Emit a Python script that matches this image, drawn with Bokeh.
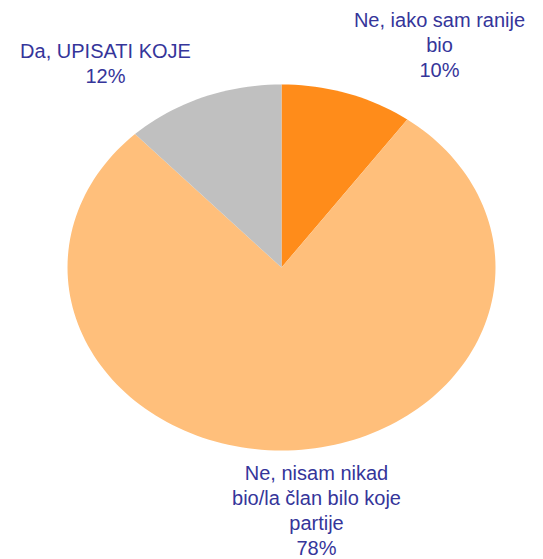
import math
from bokeh.plotting import figure
from bokeh.models import Range1d, ColumnDataSource
from bokeh.core.properties import value
from bokeh.embed import file_html
from bokeh.resources import INLINE

# --- data ---
categories = ["Ne, iako sam ranije\nbio",
              "Ne, nisam nikad\nbio/la član bilo koje\npartije",
              "Da, UPISATI KOJE"]
shares = [10, 78, 12]
colors = ["#FF8C1A", "#FFBF7B", "#C0C0C0"]

# --- layout (picture pixel coordinates) ---
W, H = 543, 559
CX, CY, RX, RY = 281, 267, 214, 183
label_anchor = [(439, 19), (316, 472), (105, 50)]   # centre of first line
LINE = 25
TEXT_COLOR = "#35359A"

p = figure(width=W, height=H, output_backend="svg", toolbar_location=None,
           x_range=Range1d(0, W), y_range=Range1d(H, 0),
           min_border=0, outline_line_color=None)
p.axis.visible = False
p.grid.visible = False
p.background_fill_color = "white"
p.border_fill_color = "white"

total = float(sum(shares))
xs, ys = [], []
cum = 0.0
for v in shares:
    a0 = 2 * math.pi * cum / total
    a1 = 2 * math.pi * (cum + v) / total
    n = max(4, int(200 * v / total))
    px, py = [CX], [CY]
    for i in range(n + 1):
        t = a0 + (a1 - a0) * i / n
        px.append(CX + RX * math.sin(t))
        py.append(CY - RY * math.cos(t))
    xs.append(px)
    ys.append(py)
    cum += v

p.patches(xs="xs", ys="ys", fill_color="color", line_color=None,
          source=ColumnDataSource(dict(xs=xs, ys=ys, color=colors)))

tx, ty, tt = [], [], []
for cat, v, (ax, ay) in zip(categories, shares, label_anchor):
    lines = cat.split("\n") + [f"{v}%"]
    for i, ln in enumerate(lines):
        tx.append(ax)
        ty.append(ay + i * LINE)
        tt.append(ln)

p.text(x="x", y="y", text="t", source=ColumnDataSource(dict(x=tx, y=ty, t=tt)),
       text_align="center", text_baseline="middle",
       text_font=value("Liberation Sans"), text_font_size="20px",
       text_color=TEXT_COLOR)

open("out.html", "w").write(file_html(p, INLINE))
